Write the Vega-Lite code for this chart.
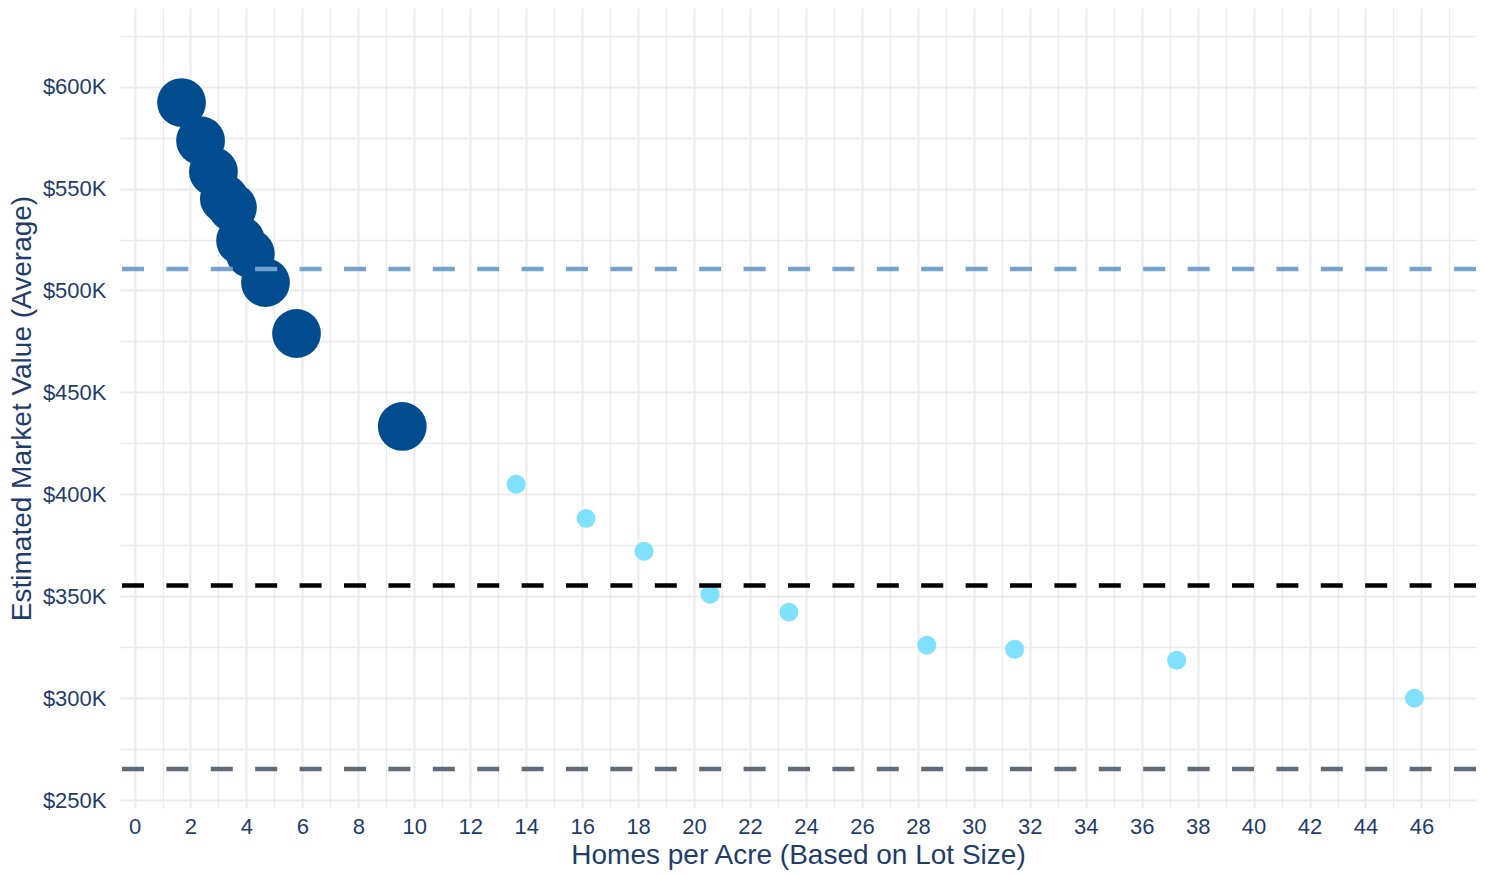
{
  "$schema": "https://vega.github.io/schema/vega-lite/v6.json",
  "width": 1356,
  "height": 800,
  "autosize": {"type": "none"},
  "padding": {"left": 120, "top": 8, "right": 9, "bottom": 66},
  "background": "white",
  "config": {
    "view": {"stroke": null},
    "font": "Liberation Sans"
  },
  "datasets": {
    "points": [
      {"homes_per_acre": 1.68, "value": 592200, "density": "Lower density"},
      {"homes_per_acre": 2.36, "value": 573500, "density": "Lower density"},
      {"homes_per_acre": 2.82, "value": 558300, "density": "Lower density"},
      {"homes_per_acre": 3.21, "value": 545000, "density": "Lower density"},
      {"homes_per_acre": 3.5, "value": 540700, "density": "Lower density"},
      {"homes_per_acre": 3.79, "value": 524500, "density": "Lower density"},
      {"homes_per_acre": 4.14, "value": 518000, "density": "Lower density"},
      {"homes_per_acre": 4.68, "value": 503900, "density": "Lower density"},
      {"homes_per_acre": 5.79, "value": 478900, "density": "Lower density"},
      {"homes_per_acre": 9.57, "value": 433300, "density": "Lower density"},
      {"homes_per_acre": 13.64, "value": 404900, "density": "Higher density"},
      {"homes_per_acre": 16.14, "value": 388200, "density": "Higher density"},
      {"homes_per_acre": 18.21, "value": 372100, "density": "Higher density"},
      {"homes_per_acre": 20.57, "value": 351000, "density": "Higher density"},
      {"homes_per_acre": 23.39, "value": 342200, "density": "Higher density"},
      {"homes_per_acre": 28.32, "value": 326000, "density": "Higher density"},
      {"homes_per_acre": 31.46, "value": 324000, "density": "Higher density"},
      {"homes_per_acre": 37.25, "value": 318600, "density": "Higher density"},
      {"homes_per_acre": 45.75, "value": 300000, "density": "Higher density"}
    ],
    "refs": [
      {"ref": "Upper", "value": 510500},
      {"ref": "Middle", "value": 355300},
      {"ref": "Lower", "value": 265200}
    ]
  },
  "layer": [
    {
      "data": {"name": "points"},
      "mark": {"type": "circle", "opacity": 1},
      "encoding": {
        "x": {
          "field": "homes_per_acre",
          "type": "quantitative",
          "scale": {"domain": [-0.52, 47.95], "nice": false, "zero": false},
          "axis": {
            "title": "Homes per Acre (Based on Lot Size)",
            "values": [0,1,2,3,4,5,6,7,8,9,10,11,12,13,14,15,16,17,18,19,20,21,22,23,24,25,26,27,28,29,30,31,32,33,34,35,36,37,38,39,40,41,42,43,44,45,46,47],
            "labelExpr": "datum.value % 2 === 0 ? datum.label : ''",
            "domain": false,
            "ticks": false,
            "grid": true,
            "gridColor": "#EBEBEB",
            "gridWidth": {"condition": {"test": "datum.value % 2 === 0", "value": 2}, "value": 1.3},
            "labelFontSize": 22,
            "labelColor": "#1f3d6b",
            "labelPadding": 8,
            "labelFlush": false,
            "labelOverlap": false,
            "titleFontSize": 28,
            "titleFontWeight": "normal",
            "titleColor": "#1f3d6b",
            "titlePadding": 4
          }
        },
        "y": {
          "field": "value",
          "type": "quantitative",
          "scale": {"domain": [246100, 638600], "nice": false, "zero": false},
          "axis": {
            "title": "Estimated Market Value (Average)",
            "values": [250000,275000,300000,325000,350000,375000,400000,425000,450000,475000,500000,525000,550000,575000,600000,625000],
            "labelExpr": "datum.value % 50000 === 0 ? '$' + (datum.value / 1000) + 'K' : ''",
            "domain": false,
            "ticks": false,
            "grid": true,
            "gridColor": "#EBEBEB",
            "gridWidth": {"condition": {"test": "datum.value % 50000 === 0", "value": 2}, "value": 1.3},
            "labelFontSize": 22,
            "labelColor": "#1f3d6b",
            "labelPadding": 14,
            "labelFlush": false,
            "labelOverlap": false,
            "titleFontSize": 28,
            "titleFontWeight": "normal",
            "titleColor": "#1f3d6b",
            "titlePadding": 6
          }
        },
        "color": {
          "field": "density",
          "type": "nominal",
          "scale": {"domain": ["Lower density", "Higher density"], "range": ["#004C8E", "#80E1FF"]},
          "legend": null
        },
        "size": {
          "field": "density",
          "type": "nominal",
          "scale": {"domain": ["Lower density", "Higher density"], "range": [2380, 360]},
          "legend": null
        }
      }
    },
    {
      "data": {"name": "refs"},
      "mark": {"type": "rule", "strokeWidth": 4.5, "strokeDash": [22, 22.4]},
      "encoding": {
        "y": {"field": "value", "type": "quantitative"},
        "color": {
          "field": "ref",
          "type": "nominal",
          "scale": {"domain": ["Upper", "Middle", "Lower"], "range": ["#76A3CD", "#000000", "#5F6B78"]},
          "legend": null
        }
      }
    }
  ],
  "resolve": {"scale": {"color": "independent"}}
}
